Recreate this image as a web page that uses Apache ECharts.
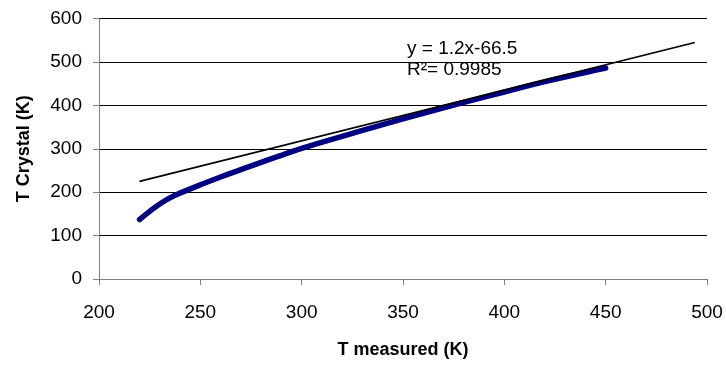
<!DOCTYPE html>
<html>
<head>
<meta charset="utf-8">
<script src="https://cdn.jsdelivr.net/npm/echarts@6/dist/echarts.min.js"></script>
<style>
html,body{margin:0;padding:0;background:#fff;}
#chart{width:726px;height:365px;}
</style>
</head>
<body>
<div id="chart"></div>
<script>
// Measured data (T measured vs T crystal)
var tMeasured = [220, 225, 230, 235, 240, 250, 260, 270, 280, 290, 300, 320, 340, 360, 380, 400, 420, 440, 450];
var tCrystal  = [137, 156, 173, 187, 198, 217, 235, 252, 269, 285, 301, 329, 356, 382, 407, 431, 455, 476, 486];
// Linear trendline as drawn (endpoints)
var trendX = [220, 494];
var trendY = [225, 545];
// Axis settings
var xTicks = {min: 200, max: 500, interval: 50};
var yTicks = {min: 0, max: 600, interval: 100};
var equationText = 'y = 1.2x-66.5';
var r2Text = 'R²= 0.9985';
var xName = 'T measured (K)';
var yName = 'T Crystal (K)';

var font = '"Liberation Sans", Arial, sans-serif';
var chart = echarts.init(document.getElementById('chart'));
chart.setOption({
  animation: false,
  backgroundColor: '#fff',
  grid: {left: 99, right: 19, top: 18.7, bottom: 86, containLabel: false},
  xAxis: {
    type: 'value', min: xTicks.min, max: xTicks.max, interval: xTicks.interval,
    name: xName, nameLocation: 'middle', nameGap: 62,
    nameTextStyle: {fontFamily: font, fontSize: 18, fontWeight: 'bold', color: '#000'},
    axisLine: {show: true, onZero: false, lineStyle: {color: '#808080', width: 1}},
    axisTick: {show: true, length: 6, lineStyle: {color: '#808080'}},
    axisLabel: {fontFamily: font, fontSize: 19, color: '#000', margin: 24},
    splitLine: {show: false}
  },
  yAxis: {
    type: 'value', min: yTicks.min, max: yTicks.max, interval: yTicks.interval,
    name: yName, nameLocation: 'middle', nameGap: 66, nameRotate: 90,
    nameTextStyle: {fontFamily: font, fontSize: 18, fontWeight: 'bold', color: '#000'},
    axisLine: {show: true, lineStyle: {color: '#808080', width: 1}},
    axisTick: {show: true, length: 6, lineStyle: {color: '#808080'}},
    axisLabel: {fontFamily: font, fontSize: 19, color: '#000', margin: 17},
    splitLine: {show: true, lineStyle: {color: '#000', width: 1}}
  },
  series: [
    {
      type: 'line', name: 'data', smooth: true, symbol: 'none',
      data: tMeasured.map(function(x, i){ return [x, tCrystal[i]]; }),
      lineStyle: {color: '#000080', width: 5.5, cap: 'round', join: 'round'},
      z: 2
    },
    {
      type: 'line', name: 'trend', symbol: 'none',
      data: trendX.map(function(x, i){ return [x, trendY[i]]; }),
      lineStyle: {color: '#000', width: 1.6},
      z: 3
    }
  ],
  graphic: [
    {type: 'text', left: 407, top: 38, z: 10,
     style: {text: equationText + '\n' + r2Text, fontFamily: font, fontSize: 19, lineHeight: 21, fill: '#000'}}
  ]
});
</script>
</body>
</html>
